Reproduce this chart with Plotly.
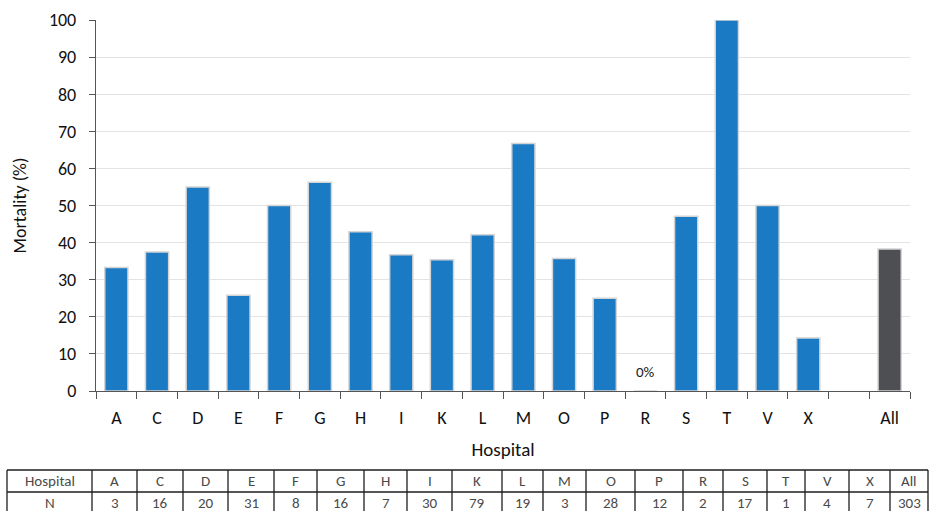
import plotly.graph_objects as go

# Hospital-level mortality, with the pooled figure in its own column
hospitals = ["A", "C", "D", "E", "F", "G", "H", "I", "K", "L", "M", "O", "P", "R", "S", "T", "V", "X"]
mortality = [33.3, 37.5, 55.0, 25.8, 50.0, 56.25, 42.9, 36.7, 35.4, 42.1, 66.7, 35.7, 25.0, 0.0, 47.1, 100.0, 50.0, 14.3]
n_patients = [3, 16, 20, 31, 8, 16, 7, 30, 79, 19, 3, 28, 12, 2, 17, 1, 4, 7]
overall_label = "All"
overall_mortality = 38.3
overall_n = 303
y_ticks = [0, 10, 20, 30, 40, 50, 60, 70, 80, 90, 100]

# Layout constants (pixels of the 930 x 511 canvas)
W, H = 930, 511
FONT = "Carlito, Lato, 'Liberation Sans', sans-serif"
BLUE = "#1a7ac4"
DARK = "#4d4f53"
EDGE = "#d4d4d4"
SPACER = " "
TABLE_LEFT = 7
TABLE_COL_W = [85, 45, 46, 45, 46, 43, 47, 43, 45, 50, 41, 43, 49, 48, 40, 44, 38, 44, 41, 38]
TABLE_TOP = 470
TABLE_ROW_H = 22


def px(x):
    return x / W


def py(y):
    return (H - y) / H


categories = hospitals + [SPACER, overall_label]

fig = go.Figure()

fig.add_trace(go.Bar(
    x=hospitals, y=mortality,
    marker=dict(color=BLUE, line=dict(color=EDGE, width=1.5)),
    showlegend=False, hoverinfo="x+y",
))
fig.add_trace(go.Bar(
    x=[overall_label], y=[overall_mortality],
    marker=dict(color=DARK, line=dict(color=EDGE, width=1.5)),
    showlegend=False, hoverinfo="x+y",
))

# Hospitals with no deaths get an explicit label instead of an invisible bar
for h, v in zip(hospitals, mortality):
    if v == 0:
        fig.add_annotation(x=h, y=v, text=f"{v:.0f}%", showarrow=False,
                           yanchor="middle", yshift=19, xref="x", yref="y",
                           font=dict(family=FONT, size=15, color="#222"))

# Patient counts table beneath the chart
header_row = ["Hospital"] + hospitals + [overall_label]
count_row = ["N"] + [str(n) for n in n_patients] + [str(overall_n)]
edges = [TABLE_LEFT]
for w in TABLE_COL_W:
    edges.append(edges[-1] + w)
row_edges = [TABLE_TOP + i * TABLE_ROW_H for i in range(3)]

line_style = dict(color="#1e1e1e", width=1.3)
for yy in row_edges:
    fig.add_shape(type="line", xref="paper", yref="paper",
                  x0=px(edges[0]), x1=px(edges[-1]), y0=py(yy), y1=py(yy), line=line_style)
for xx in edges:
    fig.add_shape(type="line", xref="paper", yref="paper",
                  x0=px(xx), x1=px(xx), y0=py(row_edges[0]), y1=py(row_edges[-1]), line=line_style)

for r, row in enumerate([header_row, count_row]):
    yc = (row_edges[r] + row_edges[r + 1]) / 2
    for c, txt in enumerate(row):
        xc = (edges[c] + edges[c + 1]) / 2
        fig.add_annotation(x=px(xc), y=py(yc), xref="paper", yref="paper",
                           text=txt, showarrow=False, xanchor="center", yanchor="middle",
                           font=dict(family=FONT, size=15, color="#4a4a4a"))

fig.update_layout(
    width=W, height=H,
    margin=dict(l=0, r=0, t=0, b=0),
    paper_bgcolor="white", plot_bgcolor="white",
    bargap=0.43,
    font=dict(family=FONT, color="#111"),
    xaxis=dict(
        domain=[px(96), px(910)],
        type="category", categoryorder="array", categoryarray=categories,
        range=[-0.5, len(categories) - 0.5],
        tickson="boundaries", ticks="outside", ticklen=7, tickcolor="#555",
        ticklabelstandoff=10,
        showline=True, linecolor="#555", linewidth=1.3,
        showgrid=False, tickfont=dict(size=18, color="#111"),
        title=dict(text="Hospital", font=dict(size=19, color="#111"), standoff=14),
        automargin=False,
    ),
    yaxis=dict(
        domain=[py(391), py(20)],
        range=[0, 100], tickvals=y_ticks,
        ticks="outside", ticklen=6, tickcolor="#555",
        ticklabelstandoff=9,
        showline=True, linecolor="#555", linewidth=1.3,
        showgrid=True, gridcolor="#e3e3e3", gridwidth=1.3,
        zeroline=False, tickfont=dict(size=18, color="#111"),
        title=dict(text="Mortality (%)", font=dict(size=18, color="#111"), standoff=17),
        automargin=False,
    ),
)

fig.write_html("out.html")
